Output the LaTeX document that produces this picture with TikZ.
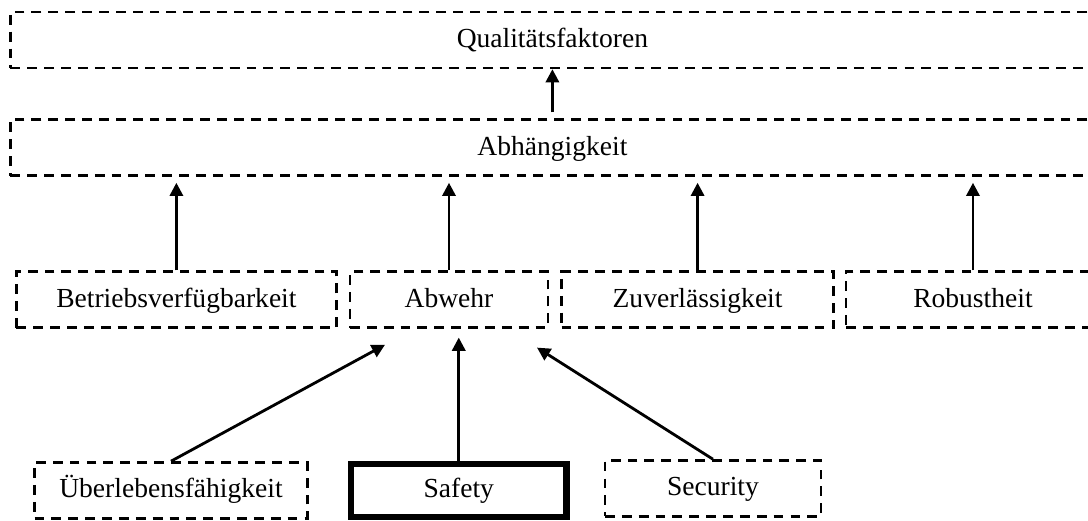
\documentclass[tikz,border=0pt]{standalone}
\usepackage{fontspec}
\setmainfont{Liberation Serif}
\usetikzlibrary{positioning,arrows.meta,calc}

\begin{document}
\begin{tikzpicture}[
        node distance=0.28cm and 0.28cm,
        factor/.style={draw, dashed, line width=1.7pt, dash pattern=on 7pt off 5pt, inner sep=0pt, minimum height=1.4cm, text height=15pt, text depth=4.3pt, font=\fontsize{19.6}{23}\selectfont},
        wide/.style={factor, minimum width=27.1cm},
        keyfactor/.style={factor, solid, line width=4.5pt, minimum width=5.39cm, minimum height=1.32cm},
        arrow/.style={-{Triangle[length=3.3mm, width=3.3mm]}, line width=2pt}
    ]
        \useasboundingbox (0,0) rectangle (27.2,-13.025);

        % Top levels
        \node[wide] (qual) at (13.81,-1.0) {Qualitätsfaktoren};
        \node[wide, below=1.23cm of qual] (abh) {Abhängigkeit};
        \draw[arrow] ([yshift=0.15cm]abh.north) -- (qual.south);

        % Attributes of dependability
        \node[factor, minimum width=8.0cm] (betr) at (4.41,-7.49) {Betriebsverfügbarkeit};
        \node[factor, minimum width=4.95cm, right=of betr] (abwehr) {Abwehr};
        \node[factor, minimum width=6.8cm, right=of abwehr] (zuver) {Zuverlässigkeit};
        \node[factor, minimum width=6.35cm, right=0.25cm of zuver] (robust) {Robustheit};
        \foreach \n in {betr,abwehr,zuver,robust}
            \draw[arrow] (\n.north) -- ([yshift=-0.15cm]\n.north |- abh.south);

        % Parts of Abwehr
        \node[factor, minimum width=6.82cm] (ueber) at (4.275,-12.26) {Überlebensfähigkeit};
        \node[keyfactor, right=0.98cm of ueber] (safety) {Safety};
        \node[factor, minimum width=5.4cm, right=0.85cm of safety, yshift=0.05cm] (secu) {Security};

        \coordinate (inU) at ($(abwehr.south)+(-1.6,-0.4)$);
        \coordinate (inS) at ($(safety.north |- abwehr.south)+(0,-0.22)$);
        \coordinate (inC) at ($(abwehr.south)+(2.2,-0.47)$);
        \draw[arrow] (ueber.north) -- (inU);
        \draw[arrow] (safety.north) -- (inS);
        \draw[arrow] (secu.north) -- (inC);
    \end{tikzpicture}
\end{document}
